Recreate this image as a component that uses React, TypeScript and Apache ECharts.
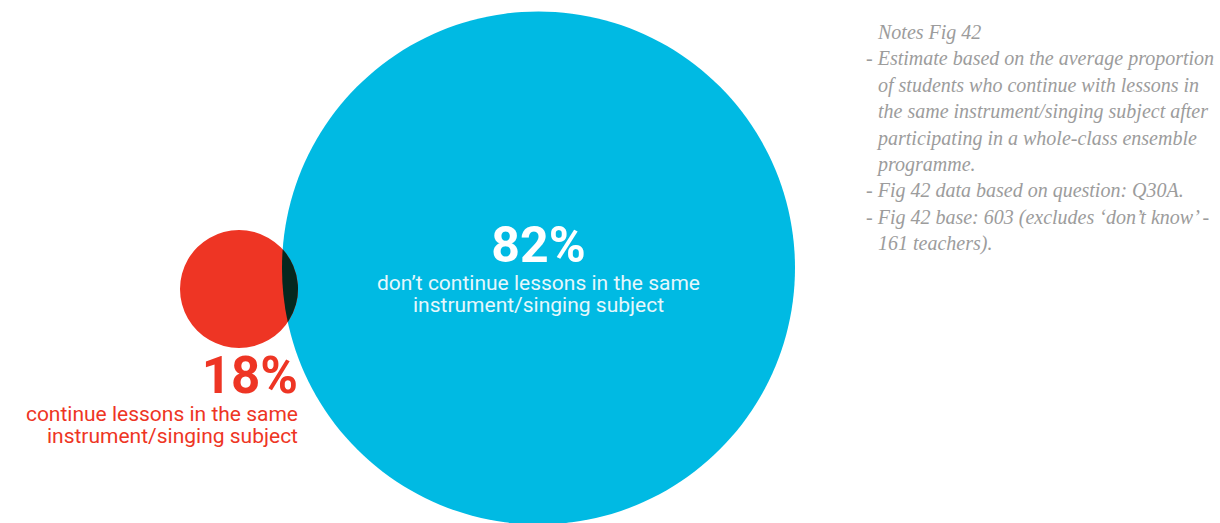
import React, { useEffect, useRef } from "react";
import * as echarts from "echarts";

// ---- data ----
const categories = ["don’t continue", "continue"];
const shareValues = [82, 18];
const shareLabels = [
  ["don’t continue lessons in the same", "instrument/singing subject"],
  ["continue lessons in the same", "instrument/singing subject"],
];
const notesLines = [
  "Notes Fig 42",
  "- Estimate based on the average proportion",
  "  of students who continue with lessons in",
  "  the same instrument/singing subject after",
  "  participating in a whole-class ensemble",
  "  programme.",
  "- Fig 42 data based on question: Q30A.",
  "- Fig 42 base: 603 (excludes ‘don’t know’ -",
  "  161 teachers).",
];

// ---- layout ----
const BIG = { cx: 538.5, cy: 268, r: 256.5 };
const SMALL = { cx: 239, cy: 289, r: 59 };
const BLUE = "#00bae3";
const RED = "#ee3524";
const DARK = "#04281f";

function lensPath() {
  const dx = SMALL.cx - BIG.cx;
  const dy = SMALL.cy - BIG.cy;
  const d = Math.sqrt(dx * dx + dy * dy);
  const a = (d * d + BIG.r * BIG.r - SMALL.r * SMALL.r) / (2 * d);
  const h = Math.sqrt(BIG.r * BIG.r - a * a);
  const ux = dx / d, uy = dy / d;
  const px = BIG.cx + a * ux, py = BIG.cy + a * uy;
  const nx = -uy, ny = ux;
  const p1 = [px + h * nx, py + h * ny];
  const p2 = [px - h * nx, py - h * ny];
  const top = p1[1] < p2[1] ? p1 : p2;
  const bot = p1[1] < p2[1] ? p2 : p1;
  return `M${top[0]} ${top[1]} A${SMALL.r} ${SMALL.r} 0 0 1 ${bot[0]} ${bot[1]} A${BIG.r} ${BIG.r} 0 0 1 ${top[0]} ${top[1]} Z`;
}

let registered = false;

export default function App() {
  const ref = useRef<HTMLDivElement>(null);
  useEffect(() => {
    document.body.style.margin = "0";
    if (!registered) {
      echarts.graphic.registerShape("lens", echarts.graphic.extendPath(lensPath(), {}));
      registered = true;
    }
    const chart = echarts.init(ref.current!, null, { renderer: "svg" });
    const sans = "Roboto, 'DejaVu Sans', sans-serif";
    const serif = "'Liberation Serif', 'DejaVu Serif', serif";
    const graphic: any[] = [
      { type: "circle", shape: { cx: BIG.cx, cy: BIG.cy, r: BIG.r }, style: { fill: BLUE } },
      { type: "circle", shape: { cx: SMALL.cx, cy: SMALL.cy, r: SMALL.r }, style: { fill: RED } },
      { type: "lens", x: 0, y: 0, style: { fill: DARK } },
      {
        type: "text",
        x: BIG.cx,
        y: 270,
        style: {
          text: shareValues[0] + "%",
          fill: "#ffffff",
          font: `bold 50px ${sans}`,
          align: "center",
          verticalAlign: "bottom",
        },
      },
      ...shareLabels[0].map((t, i) => ({
        type: "text",
        x: BIG.cx,
        y: 283 + i * 22,
        style: {
          text: t,
          fill: "#e6f7fc",
          font: `21px ${sans}`,
          lineHeight: 20,
          align: "center",
          verticalAlign: "middle",
        },
      })),
      {
        type: "text",
        x: 298,
        y: 401,
        style: {
          text: shareValues[1] + "%",
          fill: RED,
          font: `bold 51px ${sans}`,
          align: "right",
          verticalAlign: "bottom",
        },
      },
      ...shareLabels[1].map((t, i) => ({
        type: "text",
        x: 298,
        y: 414 + i * 22,
        style: {
          text: t,
          fill: RED,
          font: `21px ${sans}`,
          lineHeight: 20,
          align: "right",
          verticalAlign: "middle",
        },
      })),
      ...notesLines.map((t, i) => {
        const indent = t.startsWith("  ");
        const isHead = i === 0;
        return {
          type: "text",
          x: isHead || indent ? 878 : 866,
          y: 32 + i * 26.4,
          style: {
            text: t.trim(),
            fill: "#9c9c9c",
            font: `italic 20px ${serif}`,
            align: "left",
            verticalAlign: "middle",
          },
        };
      }),
    ];
    chart.setOption({
      animation: false,
      backgroundColor: "#ffffff",
      title: { show: false, text: categories.join(" / ") },
      graphic,
    });
    return () => chart.dispose();
  }, []);
  return <div ref={ref} style={{ width: 1220, height: 523 }} />;
}
